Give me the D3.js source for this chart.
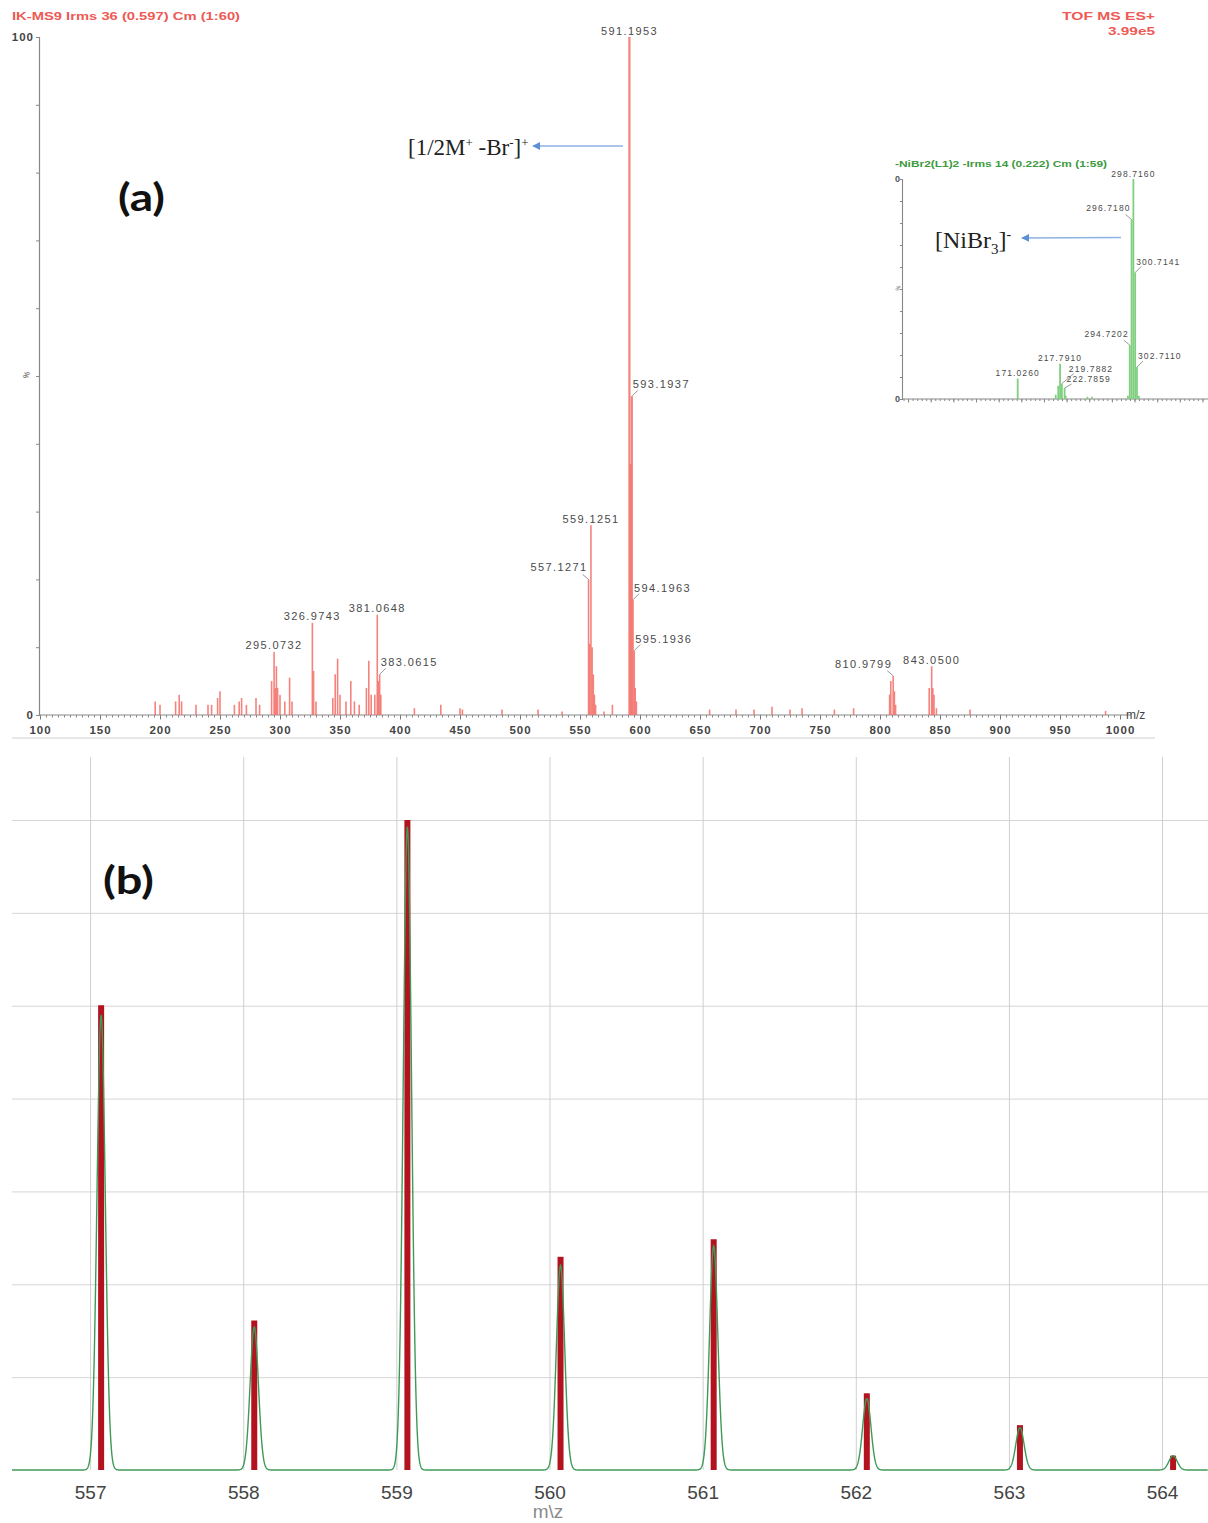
<!DOCTYPE html>
<html>
<head>
<meta charset="utf-8">
<script src="https://cdn.jsdelivr.net/npm/d3@7"></script>
<style>
  body { margin: 0; background: #fff; }
  svg { display: block; }
</style>
</head>
<body>
<script>
// ---- panel (a): ESI+ spectrum, m/z and relative intensity (%)
const mzA = [196, 200, 213, 216, 218, 230, 240, 243, 248, 250, 262, 266, 268, 272, 280, 283,
  293, 295.0732, 296, 297, 298, 300, 304, 308, 310, 326.9743, 328, 330, 344, 346, 348, 350,
  355, 359, 362, 366, 372, 374, 376, 379, 381.0648, 382, 383.0615, 384, 412, 434, 450, 452,
  485, 515, 535, 557.1271, 558.1, 559.1251, 560.1, 561.1, 562, 563, 570, 577,
  591.1953, 592.2, 593.1937, 594.1963, 595.1936, 596, 597, 658, 680, 695, 710, 725, 735,
  762, 778, 808, 809, 810.9799, 812, 813, 841, 843.05, 844, 845, 847, 875, 988]
const intA = [2, 1.5, 2, 3, 2, 1.5, 1.5, 1.5, 2.5, 3.5, 1.5, 2, 2.5, 1.5, 2.5, 1.5,
  5, 9.3, 4, 7.2, 4, 3, 2, 5.5, 2, 13.6, 6.5, 2, 2.5, 6, 8.3, 3,
  2, 5, 2, 1.5, 4, 8, 3, 3, 14.8, 5, 6, 3, 1, 1.5, 1, 0.8,
  0.8, 0.8, 0.5, 20, 10.5, 28, 10, 6, 3, 1.5, 0.5, 1.5,
  100, 37, 47, 17, 9.5, 4, 2, 0.8, 0.8, 0.8, 1.2, 0.8, 1,
  0.8, 1, 3, 5, 5.8, 3.5, 1.5, 4, 7.2, 4, 3, 1, 0.8, 0.6]
const labelsA = [
  {mz: 591.1953, text: '591.1953', side: 'top'},
  {mz: 593.1937, text: '593.1937', side: 'right'},
  {mz: 594.1963, text: '594.1963', side: 'right'},
  {mz: 595.1936, text: '595.1936', side: 'right'},
  {mz: 559.1251, text: '559.1251', side: 'top'},
  {mz: 557.1271, text: '557.1271', side: 'left'},
  {mz: 295.0732, text: '295.0732', side: 'top'},
  {mz: 326.9743, text: '326.9743', side: 'top'},
  {mz: 381.0648, text: '381.0648', side: 'top'},
  {mz: 383.0615, text: '383.0615', side: 'right'},
  {mz: 810.9799, text: '810.9799', side: 'left'},
  {mz: 843.05, text: '843.0500', side: 'top'}
]

// ---- inset: ESI- spectrum
const mzI = [171.026, 213, 215.8, 217.791, 219.7882, 222.7859, 224, 248, 253, 292.7,
  294.7202, 296.718, 298.716, 300.7141, 302.711, 304.7]
const intI = [9.3, 2, 6, 16, 7, 5, 1.5, 1, 1, 1.5, 24.5, 81.6, 100, 57.5, 14.5, 1.5]
const labelsI = [
  {mz: 298.716, text: '298.7160', side: 'top'},
  {mz: 296.718, text: '296.7180', side: 'left'},
  {mz: 300.7141, text: '300.7141', side: 'right'},
  {mz: 294.7202, text: '294.7202', side: 'left'},
  {mz: 302.711, text: '302.7110', side: 'right'},
  {mz: 171.026, text: '171.0260', side: 'top'},
  {mz: 217.791, text: '217.7910', side: 'top'},
  {mz: 219.7882, text: '219.7882', side: 'right'},
  {mz: 222.7859, text: '222.7859', side: 'right'}
]
// extra leader offset for crowded labels (pixels: dx, dy)
const labelNudge = {'219.7882': [6, -4], '222.7859': [1, 2]}

// ---- panel (b): isotope pattern, calculated (bars) vs observed (profile)
const bTicks = [557, 558, 559, 560, 561, 562, 563, 564]
const mzCalc = [557.072, 558.072, 559.072, 560.072, 561.072, 562.072, 563.072, 564.072]
const intCalc = [71.5, 23, 100, 32.8, 35.5, 11.8, 6.9, 2.2]
const intObs = [70, 22, 99, 31.5, 34.5, 11, 6.5, 2.2]

const W = 1208, H = 1523
const svg = d3.select('body').append('svg')
  .attr('width', W).attr('height', H)
  .style('font-family', 'Liberation Sans, Arial, sans-serif')

// ================= panel (a) =================
const xA = d3.scaleLinear().domain([100, 1000]).range([40, 1120])
const yA = d3.scaleLinear().domain([0, 100]).range([715, 37])
const gA = svg.append('g')

gA.append('text').attr('x', 12).attr('y', 20)
  .attr('textLength', 228).attr('lengthAdjust', 'spacingAndGlyphs')
  .attr('font-size', 11).attr('font-weight', 'bold').attr('fill', '#ee5a55')
  .text('IK-MS9 Irms 36 (0.597) Cm (1:60)')
gA.append('text').attr('x', 1062).attr('y', 20)
  .attr('textLength', 93).attr('lengthAdjust', 'spacingAndGlyphs')
  .attr('font-size', 11).attr('font-weight', 'bold').attr('fill', '#ee5a55')
  .text('TOF MS ES+')
gA.append('text').attr('x', 1108).attr('y', 35)
  .attr('textLength', 47).attr('lengthAdjust', 'spacingAndGlyphs')
  .attr('font-size', 11).attr('font-weight', 'bold').attr('fill', '#ee5a55')
  .text('3.99e5')

// border line under panel (a)
gA.append('line').attr('x1', 12).attr('x2', 1155).attr('y1', 738).attr('y2', 738)
  .attr('stroke', '#cfcfcf').attr('stroke-width', 1.2)

// axes
gA.append('g').attr('transform', 'translate(0,715)')
  .call(d3.axisBottom(xA).tickValues(d3.range(100, 1001, 5)).tickSize(2.5).tickFormat(''))
  .call(g => g.select('.domain').remove())
  .call(g => g.selectAll('line').attr('stroke', '#8a8a8a'))
gA.append('g').attr('transform', 'translate(0,715)')
  .call(d3.axisBottom(xA).tickValues(d3.range(100, 1001, 50)).tickSize(4.5).tickPadding(6)
    .tickFormat(d3.format('d')))
  .call(g => g.select('.domain').remove())
  .call(g => g.selectAll('line').attr('stroke', '#777'))
  .call(g => g.selectAll('text').attr('font-size', 11.5).attr('fill', '#444')
    .attr('letter-spacing', 1).attr('font-weight', 'bold'))
gA.append('line').attr('x1', 39).attr('x2', 1131).attr('y1', 715).attr('y2', 715)
  .attr('stroke', '#888').attr('stroke-width', 1.2)
gA.append('text').attr('x', 1126).attr('y', 719).attr('font-size', 12).attr('fill', '#444')
  .text('m/z')

gA.append('g').attr('transform', 'translate(39,0)')
  .call(d3.axisLeft(yA).tickValues(d3.range(0, 101, 10)).tickSize(3).tickFormat(''))
  .call(g => g.select('.domain').attr('stroke', '#888').attr('stroke-width', 1.2))
  .call(g => g.selectAll('.tick line').attr('stroke', '#888'))
gA.append('text').attr('x', 34).attr('y', 41).attr('text-anchor', 'end')
  .attr('font-size', 11.5).attr('font-weight', 'bold').attr('fill', '#444').attr('letter-spacing', 1).text('100')
gA.append('text').attr('x', 33).attr('y', 719).attr('text-anchor', 'end')
  .attr('font-size', 11.5).attr('font-weight', 'bold').attr('fill', '#444').text('0')
gA.append('text').attr('transform', `translate(29,${yA(50)}) rotate(-70)`).attr('text-anchor', 'middle')
  .attr('font-size', 8).attr('fill', '#555').text('%')

// peaks
gA.append('g').selectAll('line')
  .data(mzA.map((m, i) => ({mz: m, v: intA[i]})))
  .join('line')
  .attr('x1', d => xA(d.mz)).attr('x2', d => xA(d.mz))
  .attr('y1', yA(0)).attr('y2', d => yA(d.v))
  .attr('stroke', '#f3766f').attr('stroke-width', d => d.v > 30 ? 2.2 : 1.6)
  .attr('stroke-opacity', 0.9)

function peakLabels(g, labels, mzs, ints, x, y, fs, ls) {
  const lookup = m => ints[mzs.indexOf(m)]
  labels.forEach(l => {
    const px = x(l.mz), py = y(lookup(l.mz))
    const [nx, ny] = labelNudge[l.text] || [0, 0]
    const t = g.append('text').attr('font-size', fs).attr('fill', '#4a4a4a')
      .attr('letter-spacing', ls).text(l.text)
    if (l.side === 'top') {
      t.attr('x', px).attr('y', py - 2.5).attr('text-anchor', 'middle')
    } else if (l.side === 'right') {
      g.append('line').attr('x1', px).attr('y1', py).attr('x2', px + 6 + nx).attr('y2', py - 6 + ny)
        .attr('stroke', '#999')
      t.attr('x', px + 1 + nx).attr('y', py - 8 + ny)
    } else {
      g.append('line').attr('x1', px).attr('y1', py).attr('x2', px - 6).attr('y2', py - 5)
        .attr('stroke', '#999')
      t.attr('x', px - 1).attr('y', py - 8).attr('text-anchor', 'end')
    }
  })
}
peakLabels(gA, labelsA, mzA, intA, xA, yA, 11, 1.4)

// annotation
gA.append('text').attr('x', 408).attr('y', 155)
  .attr('font-family', 'Liberation Serif, Times New Roman, serif').attr('font-size', 23).attr('fill', '#222')
  .html('[1/2M<tspan dy="-8" font-size="13">+</tspan><tspan dy="8"> -Br</tspan><tspan dy="-8" font-size="13">-</tspan><tspan dy="8">]</tspan><tspan dy="-8" font-size="13">+</tspan>')
svg.append('defs').append('marker').attr('id', 'arr').attr('viewBox', '0 0 10 10')
  .attr('refX', 9).attr('refY', 5).attr('markerWidth', 6).attr('markerHeight', 6).attr('orient', 'auto')
  .append('path').attr('d', 'M0,0L10,5L0,10z').attr('fill', '#5b8fd6')
gA.append('line').attr('x1', 623).attr('y1', 146).attr('x2', 533).attr('y2', 146)
  .attr('stroke', '#8fb2e3').attr('stroke-width', 1.3).attr('marker-end', 'url(#arr)')

gA.append('text').attr('x', 118).attr('y', 211).attr('font-family', 'Lato, Open Sans, sans-serif')
  .attr('font-size', 38).attr('font-weight', 'bold').attr('fill', '#111')
  .attr('textLength', 47).attr('lengthAdjust', 'spacingAndGlyphs').text('(a)')

// ================= inset =================
const xI = d3.scaleLinear().domain([43.3, 380]).range([902, 1207])
const yI = d3.scaleLinear().domain([0, 100]).range([399, 179])
svg.select('defs').append('clipPath').attr('id', 'insetClip')
  .append('rect').attr('x', 895).attr('y', 150).attr('width', 313).attr('height', 260)
const gI = svg.append('g').attr('clip-path', 'url(#insetClip)')

gI.append('text').attr('x', 895).attr('y', 167)
  .attr('textLength', 212).attr('lengthAdjust', 'spacingAndGlyphs')
  .attr('font-size', 9).attr('font-weight', 'bold').attr('fill', '#3d9a3d')
  .text('-NiBr2(L1)2 -Irms 14 (0.222) Cm (1:59)')

gI.append('g').attr('transform', 'translate(0,399)')
  .call(d3.axisBottom(xI).tickValues(d3.range(45, 380, 5)).tickSize(2).tickFormat(''))
  .call(g => g.select('.domain').remove())
  .call(g => g.selectAll('line').attr('stroke', '#888'))
gI.append('g').attr('transform', 'translate(0,399)')
  .call(d3.axisBottom(xI).tickValues(d3.range(50, 380, 25)).tickSize(3.5).tickFormat(''))
  .call(g => g.select('.domain').remove())
  .call(g => g.selectAll('line').attr('stroke', '#888'))
gI.append('line').attr('x1', 902).attr('x2', 1208).attr('y1', 399).attr('y2', 399)
  .attr('stroke', '#888').attr('stroke-width', 1.1)
gI.append('g').attr('transform', 'translate(902,0)')
  .call(d3.axisLeft(yI).tickValues(d3.range(0, 101, 10)).tickSize(2).tickFormat(''))
  .call(g => g.select('.domain').attr('stroke', '#888').attr('stroke-width', 1.1))
  .call(g => g.selectAll('.tick line').attr('stroke', '#888'))
gI.append('text').attr('x', 900).attr('y', 182).attr('text-anchor', 'end')
  .attr('font-size', 9).attr('font-weight', 'bold').attr('fill', '#555').text('100')
gI.append('text').attr('x', 900).attr('y', 402).attr('text-anchor', 'end')
  .attr('font-size', 9).attr('font-weight', 'bold').attr('fill', '#555').text('0')
gI.append('text').attr('transform', `translate(900,${yI(50)}) rotate(-70)`).attr('text-anchor', 'middle')
  .attr('font-size', 6).attr('fill', '#666').text('%')

gI.append('g').selectAll('line')
  .data(mzI.map((m, i) => ({mz: m, v: intI[i]})))
  .join('line')
  .attr('x1', d => xI(d.mz)).attr('x2', d => xI(d.mz))
  .attr('y1', yI(0)).attr('y2', d => yI(d.v))
  .attr('stroke', '#7fcf7f').attr('stroke-width', 1.8)
peakLabels(gI, labelsI, mzI, intI, xI, yI, 8.5, 1.1)

gI.append('text').attr('x', 935).attr('y', 248)
  .attr('font-family', 'Liberation Serif, Times New Roman, serif').attr('font-size', 24).attr('fill', '#222')
  .html('[NiBr<tspan dy="6" font-size="15">3</tspan><tspan dy="-6">]</tspan><tspan dy="-9" font-size="14">-</tspan>')
gI.append('line').attr('x1', 1121).attr('y1', 237.5).attr('x2', 1022).attr('y2', 238)
  .attr('stroke', '#8fb2e3').attr('stroke-width', 1.3).attr('marker-end', 'url(#arr)')

// ================= panel (b) =================
const xB = d3.scaleLinear().domain([556.49, 564.3]).range([12, 1208])
const yB = d3.scaleLinear().domain([0, 100]).range([1470, 820])
const gB = svg.append('g')

gB.append('g').attr('transform', 'translate(12,0)')
  .call(d3.axisLeft(yB).tickValues(d3.range(1, 8).map(i => i * 100 / 7)).tickSize(-1196).tickFormat(''))
  .call(g => g.select('.domain').remove())
  .call(g => g.selectAll('line').attr('stroke', '#d6d6d6'))

gB.append('g').attr('transform', 'translate(0,1470)')
  .call(d3.axisBottom(xB).tickValues(bTicks).tickSize(-(1470 - 757)).tickPadding(16).tickFormat(d3.format('d')))
  .call(g => g.select('.domain').remove())
  .call(g => g.selectAll('line').attr('stroke', '#cfcfcf'))
  .call(g => g.selectAll('text').attr('font-size', 19).attr('fill', '#444'))

gB.append('text').attr('x', 548).attr('y', 1518).attr('text-anchor', 'middle')
  .attr('font-size', 19).attr('fill', '#8a8a8a').text('m\\z')

// calculated pattern (bars)
gB.append('g').selectAll('rect')
  .data(mzCalc.map((m, i) => ({mz: m, v: intCalc[i]})))
  .join('rect')
  .attr('x', d => xB(d.mz) - 3).attr('width', 6)
  .attr('y', d => yB(d.v)).attr('height', d => yB(0) - yB(d.v))
  .attr('fill', '#b3121f')

// observed profile (gaussian peak shape around each observed line)
const sigma = 0.027
const prof = d3.range(556.49, 564.3, 0.002).map(m => {
  let v = 0
  mzCalc.forEach((c, i) => { v += intObs[i] * Math.exp(-0.5 * ((m - c) / sigma) ** 2) })
  return [m, v]
})
gB.append('path').datum(prof)
  .attr('d', d3.line().x(d => xB(d[0])).y(d => yB(d[1])))
  .attr('fill', 'none').attr('stroke', '#3f9a57').attr('stroke-width', 1.4)

gB.append('text').attr('x', 103).attr('y', 894).attr('font-family', 'Lato, Open Sans, sans-serif')
  .attr('font-size', 38).attr('font-weight', 'bold').attr('fill', '#111')
  .attr('textLength', 51).attr('lengthAdjust', 'spacingAndGlyphs').text('(b)')
</script>
</body>
</html>
